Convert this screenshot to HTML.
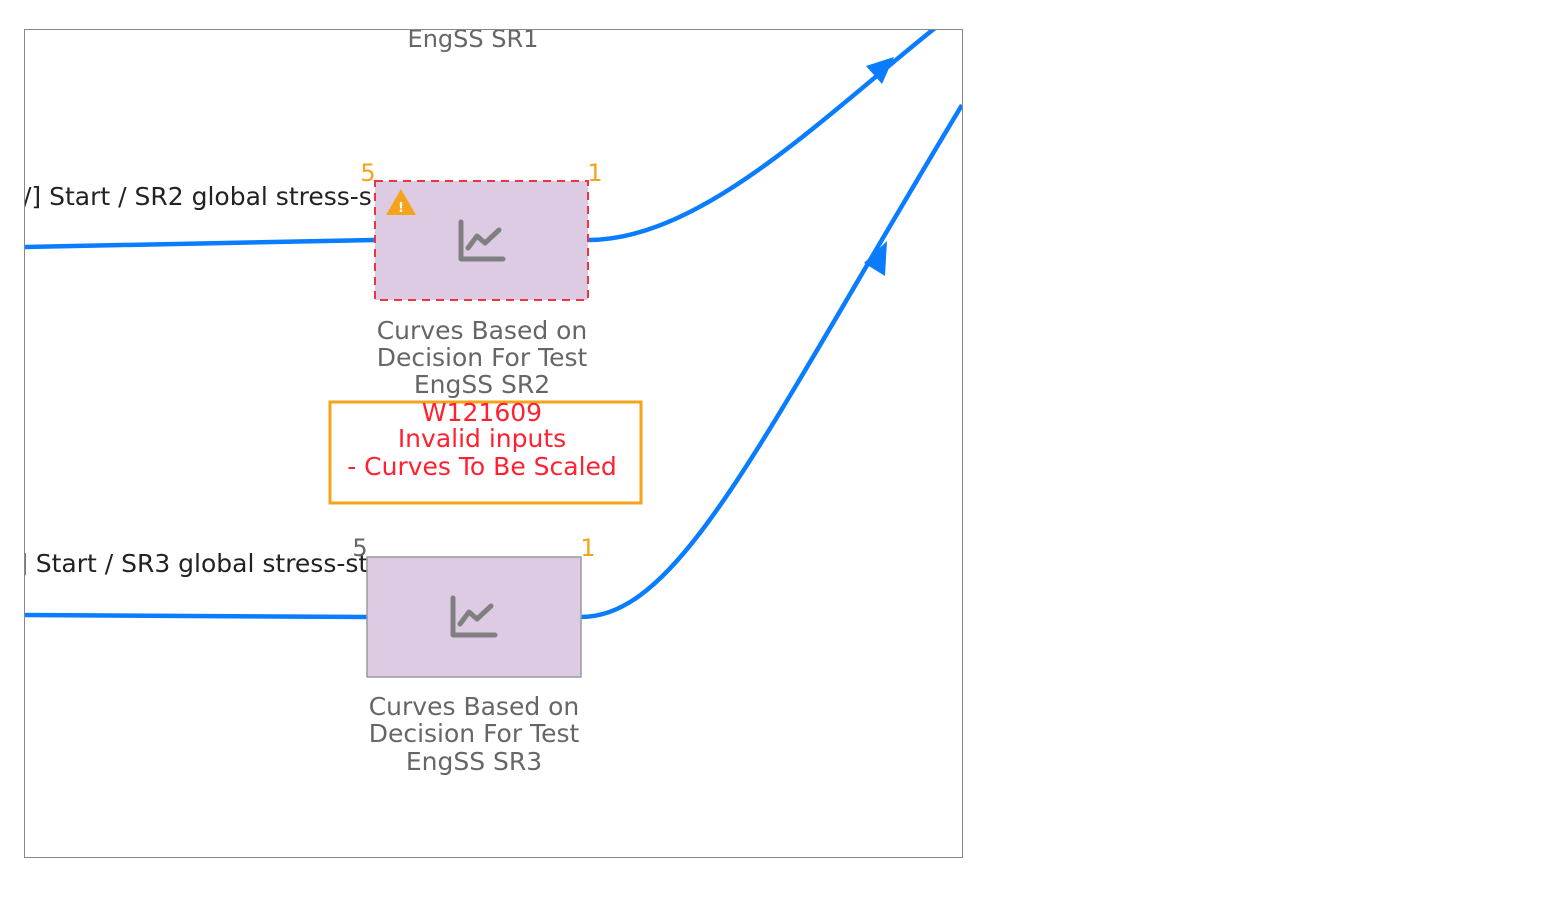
<!DOCTYPE html>
<html><head><style>body{margin:0;background:#fff;width:1550px;height:898px;overflow:hidden}</style></head><body>
<svg width="1550" height="898" xmlns="http://www.w3.org/2000/svg" font-family="DejaVu Sans, sans-serif">
<defs><clipPath id="c"><rect x="25" y="30" width="937" height="827"/></clipPath></defs>
<g clip-path="url(#c)">
<path d="M24 247 L375 240" stroke="#0a7cff" stroke-width="4.5" fill="none"/>
<path d="M588 240 C700 240 820 120 935 28" stroke="#0a7cff" stroke-width="4.5" fill="none"/>
<path d="M894 57 L882 84 L866 66 Z" fill="#0a7cff"/>
<path d="M24 615 L367 617" stroke="#0a7cff" stroke-width="4.5" fill="none"/>
<path d="M581 617 C680 617 760 440 962 105" stroke="#0a7cff" stroke-width="4.5" fill="none"/>
<path d="M887 241 L885 276 L864 263 Z" fill="#0a7cff"/>
<text x="473" y="47" font-size="24" fill="#666" text-anchor="middle">EngSS SR1</text>
<text x="23" y="205" font-size="25" fill="#222">/] Start / SR2 global stress-s</text>
<text x="18" y="572" font-size="25" fill="#222">] Start / SR3 global stress-st</text>
</g>
<rect x="24.5" y="29.5" width="938" height="828" fill="none" stroke="#888" stroke-width="1"/>
<rect x="375" y="181" width="213" height="119" fill="#dccbe3" stroke="#ee3344" stroke-width="2" stroke-dasharray="8,6"/>
<path d="M401 189 L416 215 L386 215 Z" fill="#f5a31a"/>
<text x="401" y="212" font-size="13" fill="#fff" text-anchor="middle" font-weight="bold">!</text>
<path d="M461 222 V259 H503 M468 248 L477 236 L485 243 L499 230" stroke="#808080" stroke-width="5" fill="none" stroke-linecap="round" stroke-linejoin="round"/>
<text x="368" y="181" font-size="24" fill="#f5a31a" text-anchor="middle">5</text>
<text x="595" y="181" font-size="24" fill="#f5a31a" text-anchor="middle">1</text>
<rect x="367" y="557" width="214" height="120" fill="#dccbe3" stroke="#999" stroke-width="1.5"/>
<path d="M453 598 V635 H495 M460 624 L469 612 L477 619 L491 606" stroke="#808080" stroke-width="5" fill="none" stroke-linecap="round" stroke-linejoin="round"/>
<text x="360" y="556" font-size="24" fill="#666" text-anchor="middle">5</text>
<text x="588" y="556" font-size="24" fill="#f5a31a" text-anchor="middle">1</text>
<g font-size="25" fill="#666" text-anchor="middle">
<text x="482" y="339">Curves Based on</text>
<text x="482" y="366">Decision For Test</text>
<text x="482" y="393">EngSS SR2</text>
<text x="474" y="715">Curves Based on</text>
<text x="474" y="742">Decision For Test</text>
<text x="474" y="770">EngSS SR3</text>
</g>
<rect x="330" y="402" width="311" height="101" fill="none" stroke="#f5a31a" stroke-width="3"/>
<g font-size="25" fill="#ff2030" text-anchor="middle">
<text x="482" y="421">W121609</text>
<text x="482" y="447">Invalid inputs</text>
<text x="482" y="475">- Curves To Be Scaled</text>
</g>
</svg>
</body></html>
